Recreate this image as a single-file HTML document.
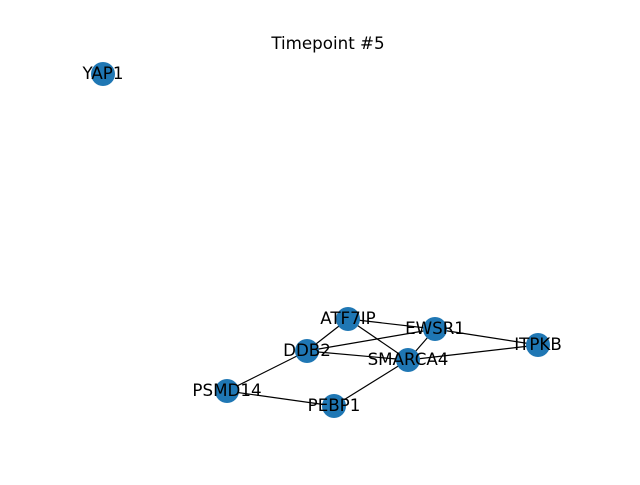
<!DOCTYPE html>
<html><head><meta charset="utf-8"><style>html,body{margin:0;padding:0;background:#fff}</style></head>
<body>
<svg width="640" height="480" xmlns="http://www.w3.org/2000/svg" font-family="'DejaVu Sans', 'Liberation Sans', sans-serif" font-size="16.7">
<text x="328" y="49" text-anchor="middle" font-size="16.7">Timepoint #5</text>
<g stroke="#000" stroke-width="1.2">
<line x1="348" y1="319" x2="435" y2="329"/>
<line x1="435" y1="329" x2="538" y2="345"/>
<line x1="348" y1="319" x2="307" y2="351"/>
<line x1="348" y1="319" x2="408" y2="360"/>
<line x1="307" y1="351" x2="435" y2="329"/>
<line x1="307" y1="351" x2="408" y2="360"/>
<line x1="435" y1="329" x2="408" y2="360"/>
<line x1="408" y1="360" x2="538" y2="345"/>
<line x1="227" y1="391" x2="307" y2="351"/>
<line x1="227" y1="391" x2="334" y2="406"/>
<line x1="334" y1="406" x2="408" y2="360"/>
</g>
<g fill="#1f77b4">
<circle cx="103" cy="74" r="12"/>
<circle cx="348" cy="319" r="12"/>
<circle cx="435" cy="329" r="12"/>
<circle cx="538" cy="345" r="12"/>
<circle cx="307" cy="351" r="12"/>
<circle cx="408" cy="360" r="12"/>
<circle cx="227" cy="391" r="12"/>
<circle cx="334" cy="406" r="12"/>
</g>
<g text-anchor="middle" fill="#000">
<text x="103" y="79">YAP1</text>
<text x="348" y="324">ATF7IP</text>
<text x="435" y="334">EWSR1</text>
<text x="538" y="350">ITPKB</text>
<text x="307" y="356">DDB2</text>
<text x="408" y="365">SMARCA4</text>
<text x="227" y="396">PSMD14</text>
<text x="334" y="411">PEBP1</text>
</g>
</svg>
</body></html>
